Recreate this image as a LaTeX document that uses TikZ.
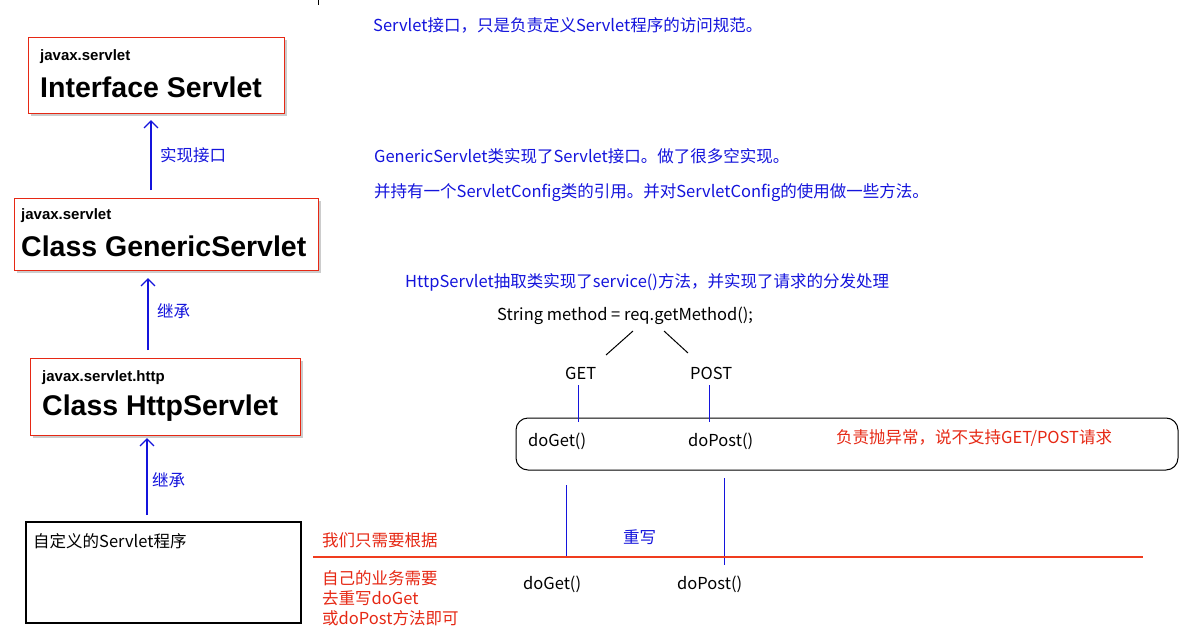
\documentclass[tikz,border=0pt]{standalone}
\usepackage{fontspec}
\setmainfont{Liberation Sans}
\newfontfamily\cjk{Noto Sans CJK SC}
\usetikzlibrary{shadows,arrows.meta}
\definecolor{tblue}{RGB}{20,20,220}
\definecolor{tred}{RGB}{230,40,20}
\definecolor{sepred}{RGB}{240,60,30}
\tikzset{
 cls/.style={draw=tred,line width=1.2pt,fill=white,drop shadow={shadow xshift=2pt,shadow yshift=-2pt,opacity=0.4}},
 inh/.style={draw=tblue,line width=1.3pt,-{Straight Barb[length=7pt,width=14pt]}},
 bl/.style={text=tblue,font=\cjk\fontsize{16.5}{18}\selectfont,anchor=west,inner sep=0pt},
 rd/.style={text=tred,font=\cjk\fontsize{16.5}{18}\selectfont,anchor=west,inner sep=0pt},
 bk/.style={text=black,font=\cjk\fontsize{16.5}{18}\selectfont,anchor=west,inner sep=0pt},
 pkg/.style={font=\bfseries\fontsize{15}{17}\selectfont,anchor=west,inner sep=0pt},
 big/.style={font=\bfseries\fontsize{28.5}{31}\selectfont,anchor=west,inner sep=0pt},
 vl/.style={draw=tblue,line width=1pt}
}
\begin{document}
\begin{tikzpicture}[x=1pt,y=-1pt]
\useasboundingbox[fill=white] (0,0) rectangle (1195,640);
\draw (318,0) -- (318,5);
% boxes
\node[cls,minimum width=256pt,minimum height=76pt,anchor=north west] (b1) at (28,37) {};
\node[pkg] at (40,57) {javax.servlet};
\node[big] at (40,87) {Interface Servlet};
\node[cls,minimum width=304pt,minimum height=72pt,anchor=north west] (b2) at (14,198) {};
\node[pkg] at (21,216) {javax.servlet};
\node[big] at (21,246) {Class GenericServlet};
\node[cls,minimum width=270pt,minimum height=77pt,anchor=north west] (b3) at (30,358) {};
\node[pkg] at (42,378) {javax.servlet.http};
\node[big] at (42,408) {Class HttpServlet};
\node[draw,line width=1.6pt,minimum width=275pt,minimum height=101pt,anchor=north west] (b4) at (25,521) {};
\node[bk] at (33,541) {自定义的Servlet程序};
% arrows
\coordinate (a1s) at (151,190); \coordinate (a1e) at (151,120);
\draw[inh] (a1s) -- (a1e);
\coordinate (a2s) at (148,350); \coordinate (a2e) at (148,278);
\draw[inh] (a2s) -- (a2e);
\coordinate (a3s) at (147,515); \coordinate (a3e) at (147,438);
\draw[inh] (a3s) -- (a3e);
\node[bl] at (160,155) {实现接口};
\node[bl] at (157,311) {继承};
\node[bl] at (152,480) {继承};
% texts
\node[bl] at (373,25) {Servlet接口，只是负责定义Servlet程序的访问规范。};
\node[bl] at (374,156) {GenericServlet类实现了Servlet接口。做了很多空实现。};
\node[bl] at (374,193) {并持有一个ServletConfig类的引用。并对ServletConfig的使用做一些方法。};
\node[bl] at (405,282) {HttpServlet抽取类实现了service()方法，并实现了请求的分发处理};
\node[bk] (sm) at (497,316) {String method = req.getMethod();};
\draw[line width=1pt] (633,331) -- (606,355);
\draw[line width=1pt] (664,331) -- (688,353);
\node[bk] (get) at (565,373) {GET};
\node[bk] (post) at (690,373) {POST};
\draw[rounded corners=12pt,line width=1pt] (516,418) rectangle (1178,470);
\draw[vl] (578,385) -- (578,422);
\draw[vl] (709,385) -- (709,422);
\node[bk] at (528,441) {doGet()};
\node[bk] at (688,441) {doPost()};
\node[rd] at (836,438) {负责抛异常，说不支持GET/POST请求};
\draw[vl] (566,485) -- (566,558);
\draw[vl] (724,478) -- (724,565);
\fill[sepred] (313,556.3) rectangle (1143,557.7);
\node[bl] at (623,537) {重写};
\node[rd] at (322,540) {我们只需要根据};
\node[rd] at (322,578) {自己的业务需要};
\node[rd] at (322,598) {去重写doGet};
\node[rd] at (322,618) {或doPost方法即可};
\node[bk] at (523,584) {doGet()};
\node[bk] at (677,584) {doPost()};
\end{tikzpicture}
\end{document}
